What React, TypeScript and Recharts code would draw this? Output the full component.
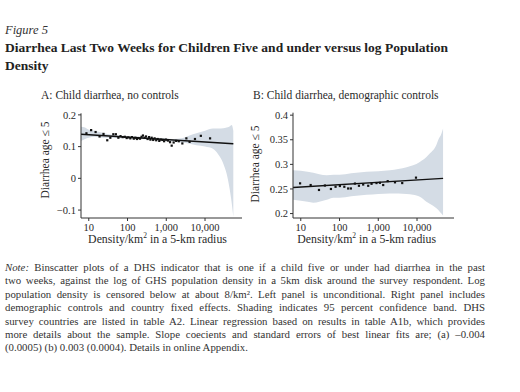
import React from 'react';
import { ComposedChart, XAxis, YAxis, Area, Line, Scatter } from 'recharts';

// ---------- Panel A: Child diarrhea, no controls ----------
const densityA = [8.7, 11.5, 15, 19, 24, 30, 36, 43, 50, 58, 66, 75, 85, 95, 105, 118, 130, 145, 160, 175, 190, 210, 230, 250, 275, 300, 330, 360, 390, 420, 460, 500, 550, 600, 660, 720, 800, 880, 980, 1100, 1250, 1380, 1550, 1800, 2100, 2600, 3300, 4000, 5500, 7800, 13500];
const diarrheaA = [0.142, 0.152, 0.146, 0.132, 0.140, 0.120, 0.128, 0.139, 0.139, 0.128, 0.133, 0.130, 0.131, 0.127, 0.129, 0.126, 0.130, 0.125, 0.128, 0.124, 0.127, 0.125, 0.131, 0.135, 0.128, 0.132, 0.124, 0.130, 0.122, 0.128, 0.121, 0.126, 0.120, 0.124, 0.118, 0.122, 0.121, 0.117, 0.122, 0.119, 0.114, 0.103, 0.113, 0.118, 0.117, 0.110, 0.126, 0.115, 0.124, 0.134, 0.126];
const bandDensityA = [6.3, 8, 10, 14, 20, 30, 50, 100, 200, 400, 800, 1500, 2500, 4000, 6000, 10000, 16000, 22000, 29500, 36000, 42000, 49000, 53700];
const bandLowA = [0.118, 0.124, 0.128, 0.131, 0.129, 0.128, 0.127, 0.126, 0.124, 0.122, 0.119, 0.116, 0.113, 0.109, 0.104, 0.100, 0.093, 0.075, 0.047, 0.015, -0.025, -0.079, -0.121];
const bandHighA = [0.163, 0.160, 0.153, 0.150, 0.145, 0.140, 0.136, 0.133, 0.131, 0.129, 0.126, 0.124, 0.126, 0.135, 0.142, 0.150, 0.157, 0.157, 0.158, 0.160, 0.163, 0.168, 0.150];
const fitDensityA = [6.3, 53700];
const fitA = [0.139, 0.109];
const yTicksA = [-0.1, 0, 0.1, 0.2];

// ---------- Panel B: Child diarrhea, demographic controls ----------
const densityB = [9.6, 18, 29.5, 42, 60, 79, 102, 133, 167, 196, 250, 317, 408, 550, 670, 900, 1100, 1340, 1750, 2700, 4150, 9400];
const diarrheaB = [0.2614, 0.258, 0.248, 0.257, 0.250, 0.2545, 0.256, 0.2545, 0.251, 0.251, 0.261, 0.2565, 0.259, 0.2565, 0.2605, 0.262, 0.2625, 0.258, 0.266, 0.2635, 0.262, 0.273];
const bandDensityB = [6.3, 10, 15, 21, 30, 47, 70, 100, 200, 500, 1000, 2000, 5400, 7900, 11800, 17500, 21300, 31700, 35000, 42500, 47000];
const bandLowB = [0.228, 0.226, 0.224, 0.222, 0.224, 0.228, 0.232, 0.232, 0.235, 0.238, 0.240, 0.241, 0.240, 0.238, 0.234, 0.224, 0.220, 0.211, 0.208, 0.200, 0.196];
const bandHighB = [0.288, 0.287, 0.285, 0.283, 0.280, 0.278, 0.279, 0.279, 0.282, 0.285, 0.286, 0.288, 0.294, 0.298, 0.305, 0.315, 0.322, 0.340, 0.349, 0.362, 0.373];
const fitDensityB = [6.3, 47000];
const fitB = [0.253, 0.2715];
const yTicksB = [0.2, 0.25, 0.3, 0.35, 0.4];

const xTicks = [10, 100, 1000, 10000];

const noteLines = [
  'Binscatter plots of a DHS indicator that is one if a child five or under had diarrhea in the past',
  'two weeks, against the log of GHS population density in a 5km disk around the survey respondent. Log',
  'population density is censored below at about 8/km². Left panel is unconditional. Right panel includes',
  'demographic controls and country fixed effects. Shading indicates 95 percent confidence band. DHS',
  'survey countries are listed in table A2. Linear regression based on results in table A1b, which provides',
  'more details about the sample. Slope coecients and standard errors of best linear fits are; (a) \u20130.004',
  '(0.0005) (b) 0.003 (0.0004). Details in online Appendix.',
];

const SERIF = '"Liberation Serif", "Times New Roman", serif';
const TEXT = '#2a2a2a';

const zip = (xs: number[], ys: number[]) => xs.map((x, i) => ({ x, y: ys[i] }));
const zipBand = (xs: number[], lo: number[], hi: number[]) => xs.map((x, i) => ({ x, band: [lo[i], hi[i]] }));

const fmtX = (v: number) => v.toLocaleString('en-US');
const fmtYA = (v: number) => (v < 0 ? '\u2212' + String(Math.abs(v)) : String(v));

const Square = (props: any) => {
  const { cx, cy } = props;
  if (cx == null || cy == null) return null;
  return <rect x={cx - 1.1} y={cy - 1.1} width={2.2} height={2.2} fill="#111" />;
};

type PanelProps = {
  left: number;
  top: number;
  marginTop: number;
  pts: { x: number; y: number }[];
  band: { x: number; band: number[] }[];
  fit: { x: number; y: number }[];
  yDomain: [number, number];
  yTicks: number[];
  yFmt: (v: number) => string;
};

const Panel = ({ left, top, marginTop, pts, band, fit, yDomain, yTicks, yFmt }: PanelProps) => (
  <div style={{ position: 'absolute', left, top }}>
    <ComposedChart width={250} height={160} margin={{ top: marginTop, right: 8, bottom: 0, left: 0 }}>
      <XAxis
        dataKey="x"
        type="number"
        scale="log"
        domain={[6.3, 90000]}
        allowDataOverflow
        ticks={xTicks}
        tickFormatter={fmtX}
        height={42}
        tickSize={3}
        tickMargin={3}
        stroke="#333"
        tick={{ fill: TEXT, fontSize: 10.5, fontFamily: SERIF }}
      />
      <YAxis
        type="number"
        domain={yDomain}
        allowDataOverflow
        ticks={yTicks}
        tickFormatter={yFmt}
        width={81}
        tickSize={3}
        tickMargin={2}
        stroke="#333"
        tick={{ fill: TEXT, fontSize: 10.5, fontFamily: SERIF }}
      />
      <Area data={band} dataKey="band" type="monotone" fill="#d4dce5" fillOpacity={1} stroke="none" isAnimationActive={false} />
      <Scatter data={pts} dataKey="y" shape={Square} isAnimationActive={false} />
      <Line data={fit} dataKey="y" type="linear" stroke="#111" strokeWidth={1.3} dot={false} isAnimationActive={false} />
    </ComposedChart>
  </div>
);

const abs = (s: React.CSSProperties): React.CSSProperties => ({ position: 'absolute', whiteSpace: 'nowrap', ...s });

const XLabel = ({ cx }: { cx: number }) => (
  <div style={abs({ left: cx, top: 233, fontSize: 11.8, lineHeight: '12px', transform: 'translateX(-50%)' })}>
    Density/km<sup style={{ fontSize: 7.5, verticalAlign: 'super', lineHeight: 0 }}>2</sup> in a 5-km radius
  </div>
);

export default function App() {
  return (
    <div style={{ position: 'absolute', left: 0, top: 0, width: 520, height: 392, background: '#fff', fontFamily: SERIF, color: TEXT, overflow: 'hidden' }}>
      <div style={abs({ left: 5, top: 23, fontSize: 12.5, fontStyle: 'italic', color: '#333' })}>Figure 5</div>
      <div style={abs({ left: 5, top: 39, fontSize: 13.5, fontWeight: 'bold', lineHeight: '18px', color: '#222' })}>
        Diarrhea Last Two Weeks for Children Five and under versus log Population
        <br />
        Density
      </div>

      <div style={abs({ left: 41, top: 89, fontSize: 11.5 })}>A: Child diarrhea, no controls</div>
      <div style={abs({ left: 253, top: 89, fontSize: 11.5 })}>B: Child diarrhea, demographic controls</div>

      <Panel left={0} top={100} marginTop={13.3} pts={zip(densityA, diarrheaA)} band={zipBand(bandDensityA, bandLowA, bandHighA)} fit={zip(fitDensityA, fitA)} yDomain={[-0.125, 0.205]} yTicks={yTicksA} yFmt={fmtYA} />
      <Panel left={212} top={100} marginTop={12.7} pts={zip(densityB, diarrheaB)} band={zipBand(bandDensityB, bandLowB, bandHighB)} fit={zip(fitDensityB, fitB)} yDomain={[0.191, 0.405]} yTicks={yTicksB} yFmt={(v) => String(v)} />

      <div style={abs({ left: 45, top: 160, fontSize: 11.5, transform: 'translate(-50%, -50%) rotate(-90deg)' })}>Diarrhea age ≤ 5</div>
      <div style={abs({ left: 255, top: 164, fontSize: 11.5, transform: 'translate(-50%, -50%) rotate(-90deg)' })}>Diarrhea age ≤ 5</div>

      <XLabel cx={157.5} />
      <XLabel cx={366.7} />

      <div style={{ position: 'absolute', left: 5, top: 261, width: 480, fontSize: 10.8, lineHeight: '13.4px', color: '#333' }}>
        {noteLines.map((t, i) => (
          <div key={i} style={{ textAlign: 'justify', textAlignLast: i < noteLines.length - 1 ? 'justify' : 'left', whiteSpace: 'nowrap' }}>
            {i === 0 ? <><i>Note:</i> {t}</> : t}
          </div>
        ))}
      </div>
    </div>
  );
}
